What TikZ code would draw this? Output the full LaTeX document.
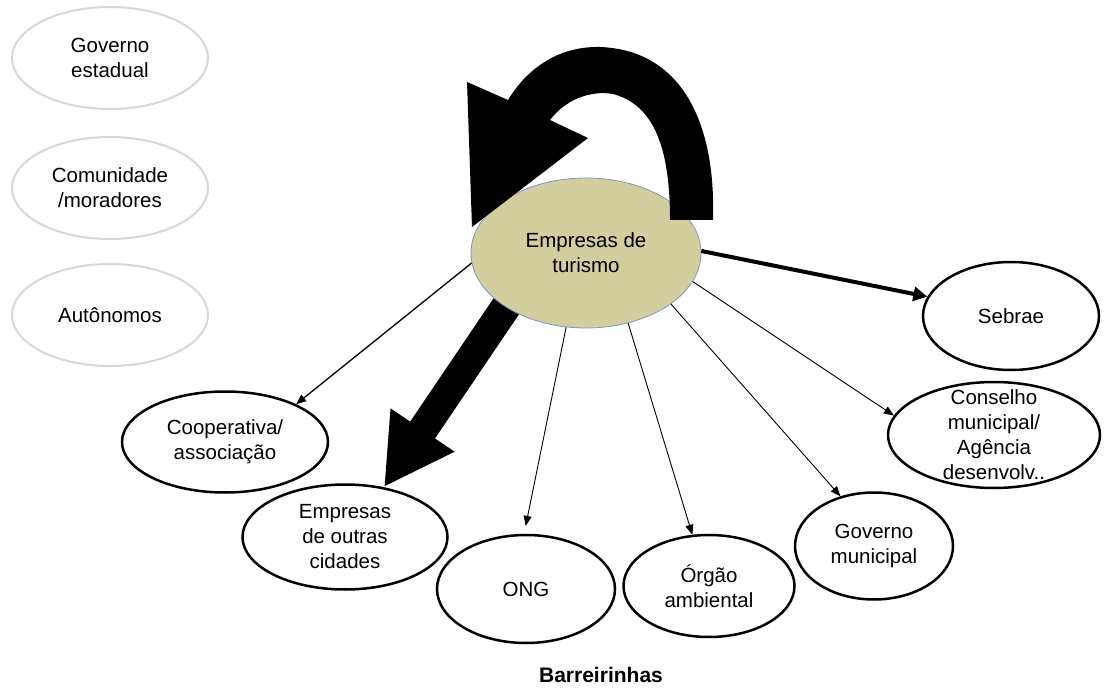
\documentclass[tikz,border=0pt]{standalone}
\usepackage{fontspec}
\setmainfont{Liberation Sans}
\usetikzlibrary{arrows.meta,shapes.geometric,backgrounds}
\definecolor{khaki}{RGB}{211,206,157}
\definecolor{rimblue}{RGB}{120,150,190}
\definecolor{lightgr}{RGB}{215,215,215}
\begin{document}
\begin{tikzpicture}[x=1pt,y=-1pt,
  every node/.style={font=\fontsize{20.5}{25}\selectfont, align=center},
  blk/.style={ellipse, draw=black, line width=2.5pt, inner sep=0pt},
  gry/.style={ellipse, draw=lightgr, line width=2pt, inner sep=0pt, minimum width=196pt, minimum height=102pt},
  lnk/.style={draw, line width=0.9pt, -{Triangle[length=10pt,width=8pt]}},
]
\useasboundingbox (0,0) rectangle (1104,698);

\node[gry] (ge) at (110,58) {Governo\\estadual};
\node[gry] (cm) at (110,188) {Comunidade\\/moradores};
\node[gry] (au) at (110,315) {Autônomos};

\node[ellipse, draw=rimblue, line width=0.8pt, fill=khaki, inner sep=0pt,
      minimum width=230pt, minimum height=150pt] (c) at (586,253) {Empresas de\\turismo};

\node[blk, minimum width=176pt, minimum height=108pt] (se) at (1011,316) {Sebrae};
\node[blk, minimum width=212pt, minimum height=106pt,
      label={[align=center]center:{Conselho\\municipal/\\Agência\\desenvolv..}}] (co) at (994,435) {};
\node[blk, minimum width=206pt, minimum height=101pt] (cp) at (225,442) {Cooperativa/\\associação};
\node[blk, minimum width=205pt, minimum height=105pt] (eo) at (345,537) {Empresas\\de outras\\cidades};
\node[blk, minimum width=178pt, minimum height=108pt] (ong) at (526,589) {ONG};
\node[blk, minimum width=171pt, minimum height=102pt] (og) at (709,586) {Órgão\\ambiental};
\node[blk, minimum width=158pt, minimum height=107pt] (gm) at (874,546) {Governo\\municipal};

\node[font=\fontsize{21}{25}\selectfont\bfseries] (title) at (601,675) {Barreirinhas};

% connectors
\draw[lnk] (c.-15.3) -- (co.169.3);
\draw[lnk] (c.-31.8) -- (gm.124.9);
\draw[lnk] (c.-59.7) -- (og.108.4);
\draw[lnk, shorten >=8pt] (c.255.8) -- (ong.92.8);
\draw[lnk, line width=1.3pt] (c.185) -- (cp.28.1);
\draw[line width=4pt, -{Triangle[length=14pt,width=14pt]}] (c.1.5) -- (se.167.1);

\begin{scope}[on background layer]
\draw[line width=30pt, -{Triangle[length=69pt,width=72pt]}, shorten <=-30pt] (c.214) -- (eo.52);
\end{scope}

% self loop
\fill[black] (713,220) -- (670,220)
  .. controls (670,150) and (655,105) .. (613,94)
  .. controls (590,90) and (565,100) .. (550,120)
  -- (588,138) -- (472,227) -- (467,82) -- (508,100)
  .. controls (525,72) and (555,46) .. (600,47)
  .. controls (680,50) and (716,120) .. (713,220) -- cycle;
\end{tikzpicture}
\end{document}
